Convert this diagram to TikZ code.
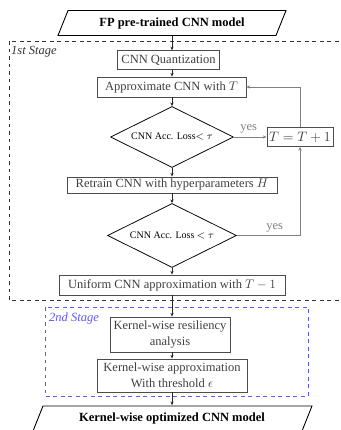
\documentclass[tikz,border=0pt]{standalone}
\usepackage{fontspec}
\setmainfont{Liberation Serif}
\usetikzlibrary{shapes.geometric,arrows.meta}
\begin{document}
\begin{tikzpicture}[x=0.8pt,y=-0.8pt,
  pbox/.style={draw=black!70, text=black!75, line width=0.7pt, inner sep=0pt, font=\fontsize{10}{12.8}\selectfont, align=center},
  dia/.style={draw=black, text=black, diamond, aspect=2, line width=0.6pt, inner sep=0pt, font=\footnotesize},
  para/.style={inner sep=0pt, font=\bfseries, minimum height=20pt},
  flow/.style={draw=black!85, line width=0.6pt, -{Stealth[length=3pt,width=2.6pt]}},
  back/.style={draw=black!50, line width=0.7pt, -{Stealth[length=3pt,width=2.6pt]}},
  lbl/.style={text=black!50, font=\fontsize{10}{12}\selectfont},
  stage/.style={draw=black!80, dashed, line width=0.6pt},
  stagetwo/.style={draw=blue!65, dashed, line width=0.7pt}
]
\useasboundingbox (0,0) rectangle (341,430);

% stage frames
\draw[stage] (9,41) rectangle (346,300);
\node[anchor=west, inner sep=0pt, font=\itshape, text=black!80] (s1) at (11,52) {1st Stage};
\draw[stagetwo] (45,307) rectangle (308,396);
\node[anchor=west, inner sep=0pt, font=\itshape, text=blue!65] (s2) at (49,318) {2nd Stage};

% input / output
\node[para] (fp) at (172,23) {FP pre-trained CNN model};
\draw[line width=0.7pt] (58,35.5) -- (276,35.5) -- (286,10.5) -- (68,10.5) -- cycle;
\node[para] (out) at (172,418) {Kernel-wise optimized CNN model};
\draw[line width=0.7pt] (33,431) -- (43,406) -- (312,406) -- (302,431);

% process nodes
\node[pbox, minimum width=81.6pt, minimum height=14.8pt] (quant) at (168.5,60) {CNN Quantization};
\node[pbox, minimum width=119.2pt, minimum height=16pt] (approx) at (171.5,87) {Approximate CNN with $T$};
\node[dia, minimum width=98.4pt, minimum height=48.8pt] (d1) at (172,137) {CNN Acc. Loss$<\tau$};
\node[pbox, minimum width=52.8pt, minimum height=15.2pt, font=\fontsize{11}{13}\selectfont] (tt) at (300,137) {$T=T+1$};
\node[pbox, minimum width=168pt, minimum height=12.8pt] (retrain) at (172,185) {Retrain CNN with hyperparameters $H$};
\node[dia, minimum width=103.2pt, minimum height=51.2pt] (d2) at (172,235.5) {CNN Acc. Loss $<\tau$};
\node[pbox, minimum width=180.8pt, minimum height=16pt] (uniform) at (172,285) {Uniform CNN approximation with $T-1$};
\node[pbox, minimum width=96pt, minimum height=28pt] (kr) at (170,334.5) {Kernel-wise resiliency\\analysis};
\node[pbox, minimum width=120pt, minimum height=26.4pt] (ka) at (172,375.5) {Kernel-wise approximation\\With threshold $\epsilon$};

% main flow
\draw[flow] (fp.south) -- (quant.north -| fp.south);
\draw[flow] (quant.south -| fp.south) -- (approx.north -| fp.south);
\draw[flow] (approx.south -| fp.south) -- (d1.north);
\draw[flow] (d1.south) -- (retrain.north);
\draw[flow] (retrain.south) -- (d2.north);
\draw[flow] (d2.south) -- (uniform.north);
\draw[flow] (uniform.south) -- (kr.north -| uniform.south);
\draw[flow] (kr.south -| uniform.south) -- (ka.north);
\draw[flow] (ka.south) -- (out.north);

% loops
\draw[back] (d1.east) -- node[lbl, above, pos=0.45, yshift=-0.5pt] (y1) {yes} (tt.west);
\draw[back] (tt.north) |- (approx.east);
\draw[back] (d2.east) -| node[lbl, above, pos=0.3, yshift=-1pt] (y2) {yes} (tt.south);
\end{tikzpicture}
\end{document}
